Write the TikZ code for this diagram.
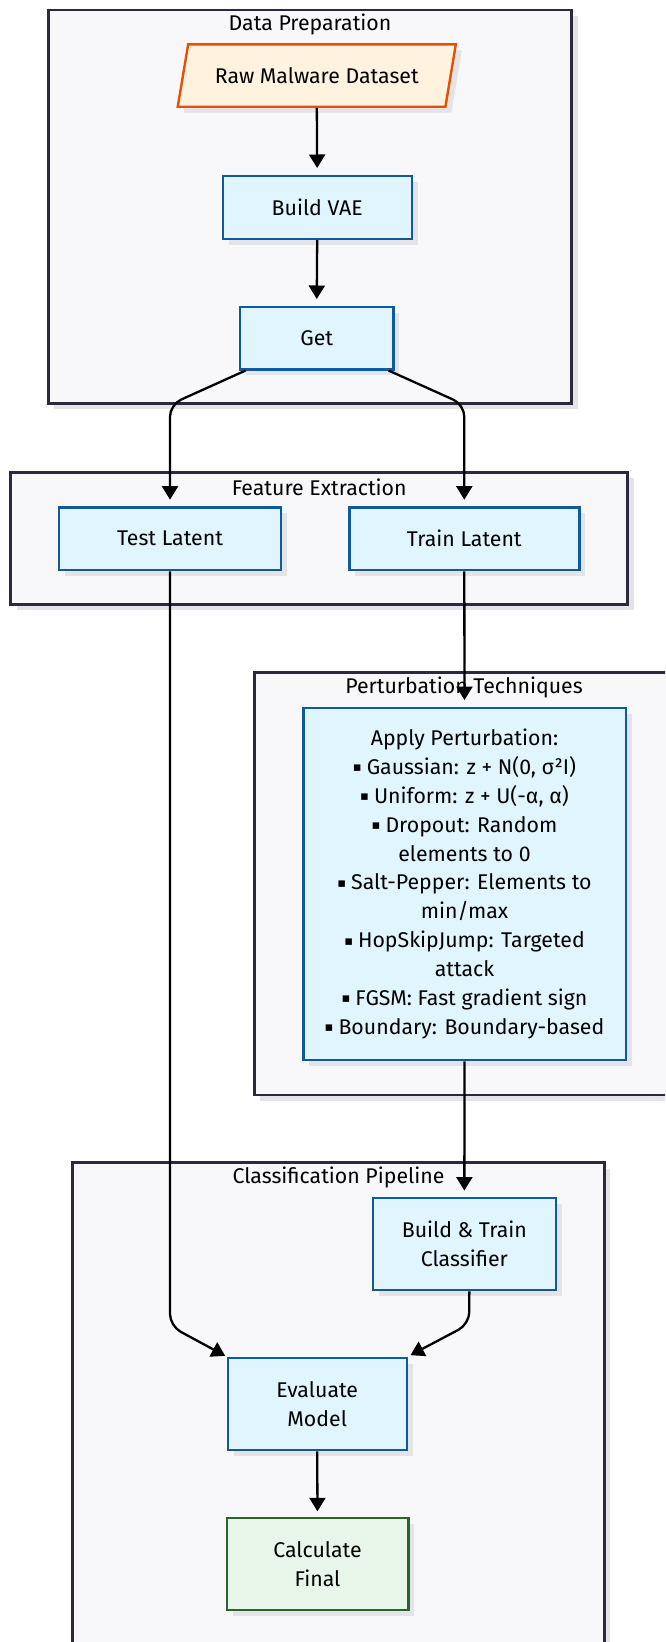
\documentclass[tikz,border=0pt]{standalone}
\usepackage{fontspec}
\setmainfont{Fira Sans}
\newfontfamily\symfont{DejaVu Sans}
\usetikzlibrary{arrows.meta,shapes.geometric,shadows}
\definecolor{clfill}{HTML}{F8F8FA}
\definecolor{cldraw}{HTML}{2A2A3C}
\definecolor{ndfill}{HTML}{E1F5FE}
\definecolor{nddraw}{HTML}{0D5A9E}
\definecolor{iofill}{HTML}{FFF3E0}
\definecolor{iodraw}{HTML}{E65100}
\definecolor{okfill}{HTML}{E8F5E9}
\definecolor{okdraw}{HTML}{2A642C}
\definecolor{shadowc}{HTML}{E4E4E8}
\newcommand{\bul}{\raisebox{2.6pt}{\symfont\fontsize{13pt}{13pt}\selectfont ▪}\hspace{5pt}}
\tikzset{
  txt/.style={font=\fontsize{21.3pt}{28.9pt}\selectfont, text=black, align=center},
  shad/.style={drop shadow={shadow xshift=6pt,shadow yshift=-6pt,fill=shadowc,opacity=1}},
  cluster/.style={draw=cldraw, fill=clfill, line width=2.6pt, shad},
  proc/.style={txt, rectangle, draw=nddraw, fill=ndfill, line width=2.4pt, shad, inner sep=0pt},
  iobox/.style={txt, trapezium, trapezium left angle=63, trapezium right angle=117, trapezium stretches=true, draw=iodraw, fill=iofill, line width=2.4pt, shad, inner sep=0pt},
  donebox/.style={proc, draw=okdraw, fill=okfill},
  ctitle/.style={txt},
  flow/.style={line width=2.3pt, draw=black, -{Triangle[length=13.5pt,width=16pt]}, rounded corners=12pt},
}
\begin{document}
\begin{tikzpicture}[x=1pt,y=-1pt]
\useasboundingbox (0,0) rectangle (665,1642);
\clip (0,0) rectangle (665,1642);
\fill[white] (0,0) rectangle (665,1642);
% clusters
\draw[cluster] (48.3,10) rectangle (571.7,403.3);
\node[ctitle] (tprep) at (310,24) {Data Preparation};
\draw[cluster] (10.7,472.3) rectangle (627.7,604.3);
\node[ctitle] (tfeat) at (319.2,487) {Feature Extraction};
\draw[cluster] (254.3,672.7) rectangle (673.7,1095);
\node[ctitle] (tpert) at (464,687.7) {Perturbation Techniques};
\draw[cluster] (72.7,1162.7) rectangle (604.3,1700);
\node[ctitle] (tclass) at (338.5,1177.7) {Classification Pipeline};
% nodes
\node[iobox, minimum width=278.3pt, minimum height=62.4pt] (raw) at (316.8,75.5) {Raw Malware Dataset};
\node[proc, minimum width=189pt, minimum height=63pt] (vae) at (317.2,207.2) {Build VAE};
\node[proc, minimum width=153.3pt, minimum height=62.6pt] (get) at (316.7,338) {Get};
\node[proc, minimum width=222pt, minimum height=62.7pt] (test) at (170,538.7) {Test Latent};
\node[proc, minimum width=230pt, minimum height=62.7pt] (train) at (464.3,538.7) {Train Latent};
\node[proc, minimum width=322.4pt, minimum height=352.3pt] (apply) at (464.5,883.9) {Apply Perturbation:\\
\bul Gaussian: z + N(0, σ²I)\\
\bul Uniform: z + U(-α, α)\\
\bul Dropout: Random\\
elements to 0\\
\bul Salt-Pepper: Elements to\\
min/max\\
\bul HopSkipJump: Targeted\\
attack\\
\bul FGSM: Fast gradient sign\\
\bul Boundary: Boundary-based};
\node[proc, minimum width=183.3pt, minimum height=92.3pt] (clf) at (464.35,1243.9) {Build \& Train\\Classifier};
\node[proc, minimum width=179pt, minimum height=92.3pt] (eval) at (317.2,1403.9) {Evaluate\\Model};
\node[donebox, minimum width=181.6pt, minimum height=92pt] (calc) at (317.5,1564) {Calculate\\Final};
% waypoints
\coordinate (c1) at (170,404.6);
\coordinate (c2) at (464.3,404.6);
\coordinate (c3) at (170,1326);
\coordinate (c4) at (469.3,1324);
% edges
\draw[flow, shorten >=6.5pt] (raw.south) -- (vae.north);
\draw[flow, shorten >=6.5pt] (vae.south) -- (get.north);
\draw[flow, shorten >=6.5pt] ([xshift=6.7pt]get.south west) -- (c1) -- (test.north);
\draw[flow, shorten >=6.5pt] ([xshift=-6pt]get.south east) -- (c2) -- (train.north);
\draw[flow, shorten >=6.5pt] (train.south) -- (apply.north);
\draw[flow, shorten >=6pt] (apply.south) -- (clf.north);
\draw[flow, shorten >=1.5pt] (test.south) -- (c3) -- (eval.north west);
\draw[flow, shorten >=3pt] ([xshift=5pt]clf.south) -- (c4) -- (eval.north east);
\draw[flow, shorten >=5.5pt] (eval.south) -- (calc.north);
\end{tikzpicture}
\end{document}
